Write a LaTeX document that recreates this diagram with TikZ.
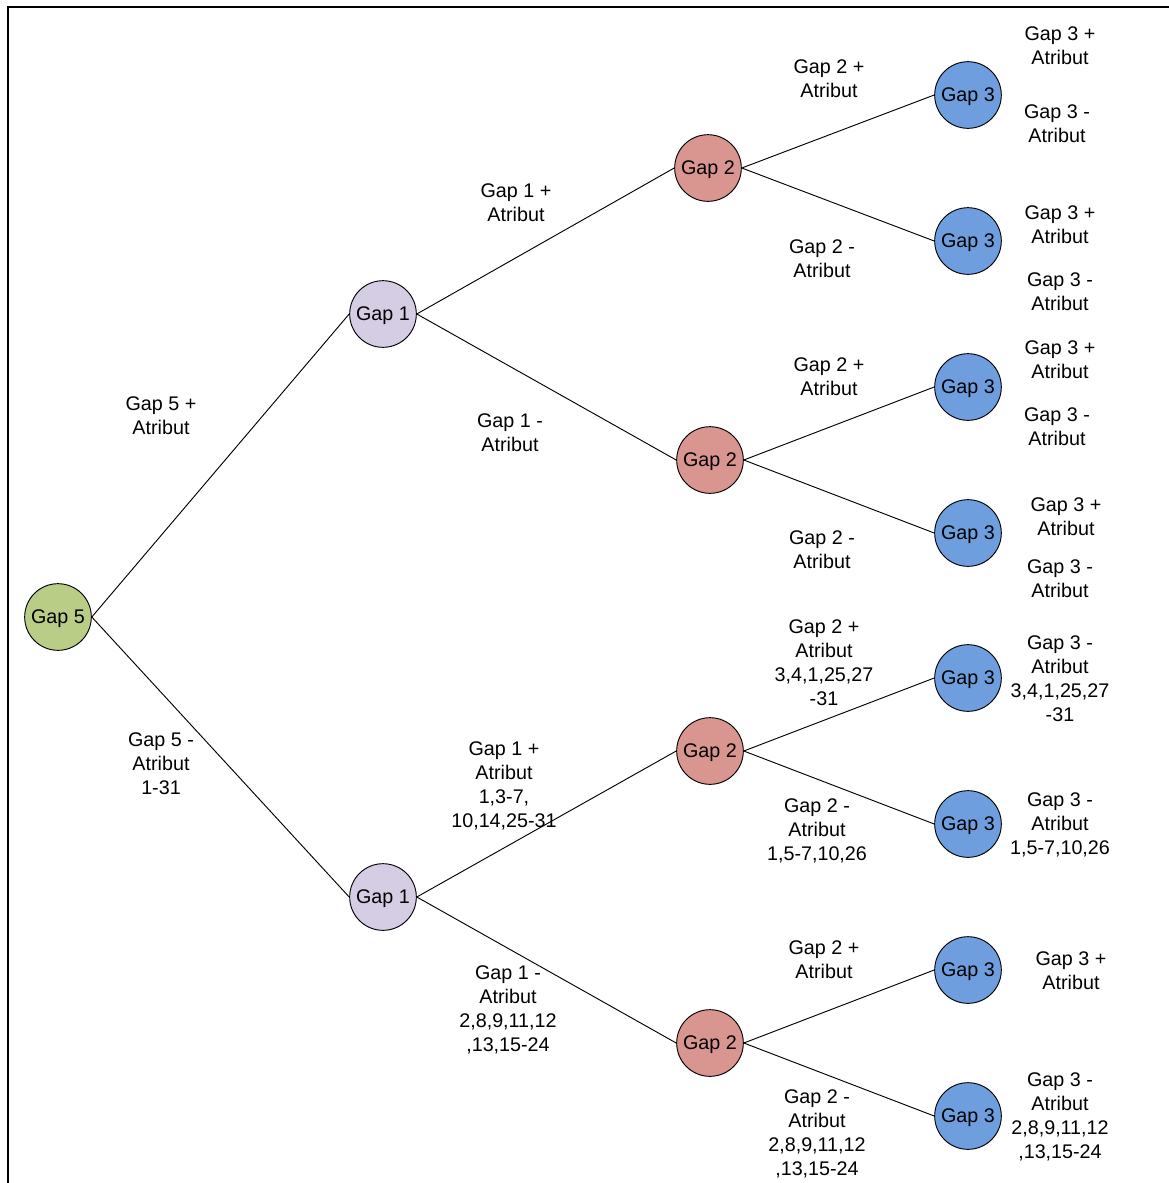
\documentclass[tikz,border=0pt]{standalone}
\usepackage{fontspec}
\setmainfont{Liberation Sans}
\usepackage{tikz}
\usepackage{xcolor}
\definecolor{gapgreen}{RGB}{185, 205, 135}
\definecolor{gaplilac}{RGB}{213, 205, 228}
\definecolor{gapred}{RGB}{217, 149, 144}
\definecolor{gapblue}{RGB}{110, 158, 221}

\begin{document}
\begin{tikzpicture}[x=0.75pt, y=-0.75pt,
  every node/.style={font=\fontsize{14.8}{18}\selectfont, align=center},
  gap/.style={circle, draw, line width=0.7pt, minimum size=50pt, inner sep=0pt, text depth=0pt},
  branch/.style={line width=0.7pt}]
  \useasboundingbox (0, 0) rectangle (1169, 1183);
  \draw[line width=1.6pt] (8, 1183) -- (8, 7) -- (1169, 7);
  % circles
  \node[gap, fill=gapgreen] (g5) at (58, 617) {Gap 5};
  \node[gap, fill=gaplilac] (g1a) at (383, 314) {Gap 1};
  \node[gap, fill=gaplilac] (g1b) at (383, 897) {Gap 1};
  \node[gap, fill=gapred] (g2a) at (708, 168) {Gap 2};
  \node[gap, fill=gapred] (g2b) at (710, 460) {Gap 2};
  \node[gap, fill=gapred] (g2c) at (710, 751) {Gap 2};
  \node[gap, fill=gapred] (g2d) at (710, 1043) {Gap 2};
  \node[gap, fill=gapblue] (g3a) at (968, 95) {Gap 3};
  \node[gap, fill=gapblue] (g3b) at (968, 241) {Gap 3};
  \node[gap, fill=gapblue] (g3c) at (968, 387) {Gap 3};
  \node[gap, fill=gapblue] (g3d) at (968, 533) {Gap 3};
  \node[gap, fill=gapblue] (g3e) at (968, 678) {Gap 3};
  \node[gap, fill=gapblue] (g3f) at (968, 824) {Gap 3};
  \node[gap, fill=gapblue] (g3g) at (968, 970) {Gap 3};
  \node[gap, fill=gapblue] (g3h) at (968, 1116) {Gap 3};
  % branches
  \draw[branch] (g5.east) to (g1a.west);
  \draw[branch] (g5.east) to (g1b.west);
  \draw[branch] (g1a.east) to (g2a.west);
  \draw[branch] (g1a.east) to (g2b.west);
  \draw[branch] (g1b.east) to (g2c.west);
  \draw[branch] (g1b.east) to (g2d.west);
  \draw[branch] (g2a.east) to (g3a.west);
  \draw[branch] (g2a.east) to (g3b.west);
  \draw[branch] (g2b.east) to (g3c.west);
  \draw[branch] (g2b.east) to (g3d.west);
  \draw[branch] (g2c.east) to (g3e.west);
  \draw[branch] (g2c.east) to (g3f.west);
  \draw[branch] (g2d.east) to (g3g.west);
  \draw[branch] (g2d.east) to (g3h.west);
  % labels
  \node (l5p) at (161, 416) {Gap 5 +\\Atribut};
  \node (l5m) at (161, 764) {Gap 5 -\\Atribut\\1-31};
  \node (l1ap) at (516, 203) {Gap 1 +\\Atribut};
  \node (l1am) at (510, 433) {Gap 1 -\\Atribut};
  \node (l1bp) at (504, 786) {Gap 1 +\\Atribut\\1,3-7,\\10,14,25-31};
  \node (l1bm) at (508, 1010) {Gap 1 -\\Atribut\\2,8,9,11,12\\,13,15-24};
  \node (l2ap) at (829, 79) {Gap 2 +\\Atribut};
  \node (l2am) at (822, 259) {Gap 2 -\\Atribut};
  \node (l2bp) at (829, 377) {Gap 2 +\\Atribut};
  \node (l2bm) at (822, 550) {Gap 2 -\\Atribut};
  \node (l2cp) at (824, 663) {Gap 2 +\\Atribut\\3,4,1,25,27\\-31};
  \node (l2cm) at (817, 831) {Gap 2 -\\Atribut\\1,5-7,10,26};
  \node (l2dp) at (824, 960) {Gap 2 +\\Atribut};
  \node (l2dm) at (817, 1134) {Gap 2 -\\Atribut\\2,8,9,11,12\\,13,15-24};
  \node (l3ap) at (1060, 46) {Gap 3 +\\Atribut};
  \node (l3am) at (1057, 124) {Gap 3 -\\Atribut};
  \node (l3bp) at (1060, 225) {Gap 3 +\\Atribut};
  \node (l3bm) at (1060, 292) {Gap 3 -\\Atribut};
  \node (l3cp) at (1060, 360) {Gap 3 +\\Atribut};
  \node (l3cm) at (1057, 427) {Gap 3 -\\Atribut};
  \node (l3dp) at (1066, 517) {Gap 3 +\\Atribut};
  \node (l3dm) at (1060, 579) {Gap 3 -\\Atribut};
  \node (l3em) at (1060, 679) {Gap 3 -\\Atribut\\3,4,1,25,27\\-31};
  \node (l3fm) at (1060, 825) {Gap 3 -\\Atribut\\1,5-7,10,26};
  \node (l3gp) at (1071, 971) {Gap 3 +\\Atribut};
  \node (l3hm) at (1060, 1117) {Gap 3 -\\Atribut\\2,8,9,11,12\\,13,15-24};
\end{tikzpicture}
\end{document}
